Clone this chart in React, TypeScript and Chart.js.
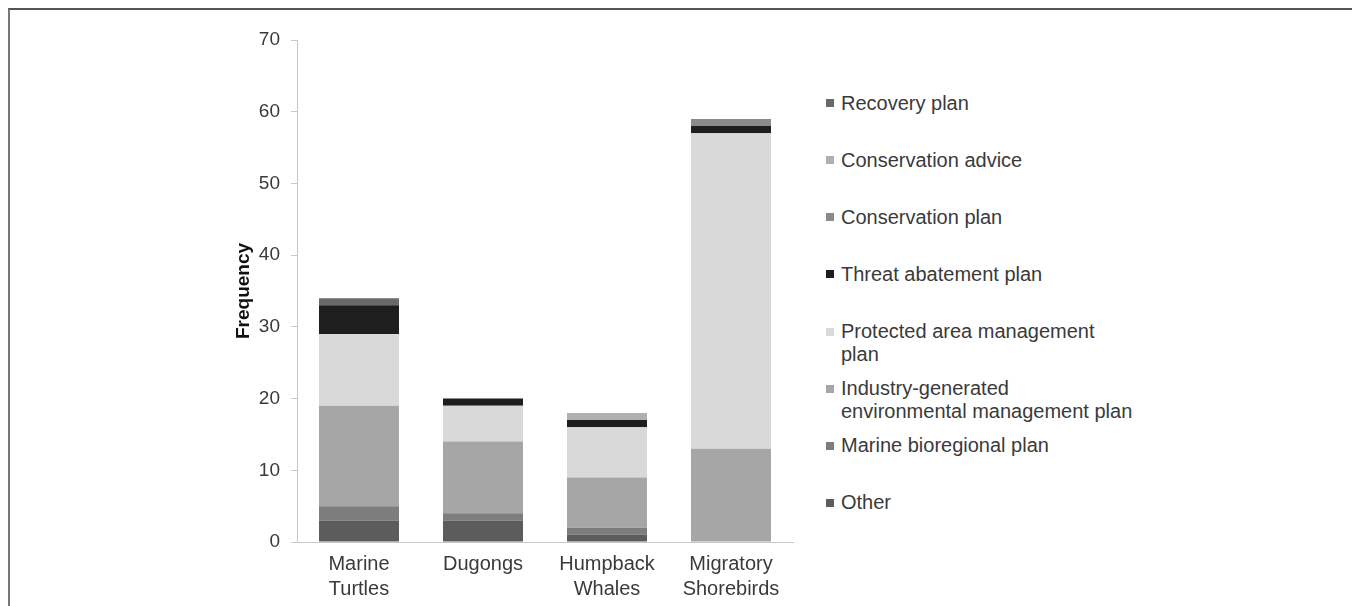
import React, { useEffect, useRef } from "react";
import { Chart, registerables } from "chart.js";

Chart.register(...registerables);

// ---------- data ----------
const categories: (string | string[])[] = [
  ["Marine", "Turtles"],
  "Dugongs",
  ["Humpback", "Whales"],
  ["Migratory", "Shorebirds"],
];

// stacked bottom -> top
const otherPlan = [3, 3, 1, 0];
const marineBioregionalPlan = [2, 1, 1, 0];
const industryPlan = [14, 10, 7, 13];
const protectedAreaPlan = [10, 5, 7, 44];
const threatAbatementPlan = [4, 1, 1, 1];
const conservationPlan = [0, 0, 0, 1];
const conservationAdvice = [0, 0, 1, 0];
const recoveryPlan = [1, 0, 0, 0];

const yTicks = [0, 10, 20, 30, 40, 50, 60, 70];

const seriesNames = [
  "Other",
  "Marine bioregional plan",
  "Industry-generated environmental management plan",
  "Protected area management plan",
  "Threat abatement plan",
  "Conservation plan",
  "Conservation advice",
  "Recovery plan",
];
const seriesLegendLines = [
  ["Other"],
  ["Marine bioregional plan"],
  ["Industry-generated", "environmental management plan"],
  ["Protected area management", "plan"],
  ["Threat abatement plan"],
  ["Conservation plan"],
  ["Conservation advice"],
  ["Recovery plan"],
];
const seriesValues = [
  otherPlan,
  marineBioregionalPlan,
  industryPlan,
  protectedAreaPlan,
  threatAbatementPlan,
  conservationPlan,
  conservationAdvice,
  recoveryPlan,
];
const seriesColors = [
  "#5c5c5c",
  "#7d7d7d",
  "#a6a6a6",
  "#d9d9d9",
  "#1e1e1e",
  "#8a8a8a",
  "#b0b0b0",
  "#6a6a6a",
];

const TEXT = "#3a3a3a";
const AXIS = "#c8c8c8";
const FONT = "'Liberation Sans', Arial, sans-serif";

export default function App() {
  const canvasRef = useRef<HTMLCanvasElement | null>(null);

  useEffect(() => {
    document.documentElement.style.overflow = "hidden";
    const canvas = canvasRef.current;
    if (!canvas) return;
    const chart = new Chart(canvas, {
      type: "bar",
      data: {
        labels: categories as any,
        datasets: seriesNames.map((name, i) => ({
          label: name,
          data: seriesValues[i],
          backgroundColor: seriesColors[i],
          borderWidth: 0,
          barPercentage: 0.645,
          categoryPercentage: 1,
        })),
      },
      options: {
        responsive: false,
        animation: false,
        devicePixelRatio: 1,
        layout: { padding: { top: 30, right: 17, left: 0, bottom: 0 } },
        plugins: {
          legend: { display: false },
          tooltip: { enabled: false },
          title: { display: false },
        },
        scales: {
          x: {
            stacked: true,
            grid: { display: false, drawTicks: false },
            border: { display: true, color: AXIS, width: 1 },
            ticks: {
              color: TEXT,
              padding: 10,
              maxRotation: 0,
              autoSkip: false,
              font: { family: FONT, size: 20, lineHeight: 1.25 },
            },
            afterFit: (scale: any) => {
              scale.height = 64;
            },
          },
          y: {
            stacked: true,
            min: 0,
            max: 70,
            grid: {
              display: true,
              drawOnChartArea: false,
              drawTicks: true,
              tickLength: 6,
              color: AXIS,
            },
            border: { display: true, color: AXIS, width: 1 },
            ticks: {
              color: TEXT,
              padding: 11,
              font: { family: FONT, size: 19 },
            },
            afterBuildTicks: (scale: any) => {
              scale.ticks = yTicks.map((v) => ({ value: v }));
            },
            title: {
              display: true,
              text: "Frequency",
              color: "#111",
              font: { family: FONT, size: 19, weight: "bold", lineHeight: 1.2 },
              padding: { top: 222, bottom: 0 },
            },
            afterFit: (scale: any) => {
              scale.width = 287;
            },
          },
        },
      },
    });
    return () => chart.destroy();
  }, []);

  const legendOrder = seriesNames.map((_, i) => i).reverse();

  return (
    <div
      style={{
        position: "relative",
        boxSizing: "border-box",
        width: 1348,
        height: 598,
        borderTop: "2px solid #555",
        borderLeft: "2px solid #777",
        borderRight: "2px solid #777",
        background: "#fff",
        overflow: "hidden",
      }}
    >
      <canvas
        ref={canvasRef}
        width={800}
        height={596}
        style={{ position: "absolute", left: 0, top: 0, width: 800, height: 596, display: "block" }}
      />
      {legendOrder.map((si, idx) => (
        <div
          key={seriesNames[si]}
          style={{
            position: "absolute",
            left: 816,
            top: 93 + idx * 57.14 - 11.5,
            fontFamily: FONT,
            fontSize: 20,
            lineHeight: "23px",
            color: TEXT,
            whiteSpace: "nowrap",
          }}
        >
          <span
            style={{
              position: "absolute",
              left: 0,
              top: 7.5,
              width: 8,
              height: 8,
              background: seriesColors[si],
            }}
          />
          <div style={{ marginLeft: 15 }}>
            {seriesLegendLines[si].map((line) => (
              <div key={line}>{line}</div>
            ))}
          </div>
        </div>
      ))}
    </div>
  );
}
